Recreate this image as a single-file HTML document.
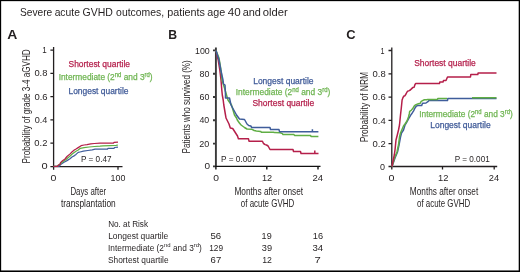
<!DOCTYPE html>
<html><head><meta charset="utf-8">
<style>
html,body{margin:0;padding:0;background:#fff;}
body{width:520px;height:272px;overflow:hidden;}
svg{display:block;will-change:transform;font-family:"Liberation Sans",sans-serif;}
.t{fill:#231f20;}
.ax{stroke:#231f20;stroke-width:1.3;fill:none;}
.axb{stroke:#3a3a3a;stroke-width:1.9;fill:none;}
.r{stroke:#b51f4a;stroke-width:1.5;fill:none;stroke-linejoin:round;}
.g{stroke:#60ae44;stroke-width:1.5;fill:none;stroke-linejoin:round;}
.b{stroke:#3f5d9b;stroke-width:1.5;fill:none;stroke-linejoin:round;}
.lr{fill:#b41f4b;stroke:#b41f4b;stroke-width:0.25;}
.lg{fill:#6fb552;stroke:#6fb552;stroke-width:0.25;}
.lb{fill:#3f5a98;stroke:#3f5a98;stroke-width:0.25;}
</style></head>
<body>
<svg width="520" height="272" viewBox="0 0 520 272">
<rect x="0" y="0" width="520" height="272" fill="#fff"/>
<path class="ax" d="M53.6,47 V166.6 M50.4,50.2 H53.6 M50.4,73.4 H53.6 M50.4,96.6 H53.6 M50.4,119.9 H53.6 M50.4,143.1 H53.6 M50.4,166.6 H53.6 M53,166.6 H122.5 M53.6,166.6 V169.7 M118,166.6 V169.7"/>
<path class="b" style="stroke-width:1.25" d="M53.5,166.3 L59,166.3 L61,164.2 L64,162.3 L67,160.6 L70,158.7 L72,157 L74.5,155.6 L76,154.4 L78.2,152.4 L80,152 L83.4,151.2 L87.8,150.5 L92.2,149.8 L95.1,149.1 L107.5,149.1 L108,148.3 L114,148.3 L114.5,147.5 L118,147.2"/>
<path class="g" style="stroke-width:1.25" d="M53.5,166.3 L57,166.2 L60,164 L63,161.5 L66,159.5 L69.5,156.5 L72.5,153.8 L76,151.2 L78.2,150 L80.4,148.3 L84.1,147.6 L89.2,147 L94.4,146.5 L100,146.1 L103,145.8 L110,145.6 L116,145.3 L118,145"/>
<path class="r" style="stroke-width:1.25" d="M53.5,166.3 L57.5,166.3 L58.5,165 L60,164.5 L60.5,162.6 L62.5,160.8 L65,159 L67,156.5 L69.8,154.1 L72.2,151.7 L74.3,150 L76,149 L78.2,147.6 L81.1,145.7 L84.1,145 L87,144.6 L90.7,143.9 L94.4,143.5 L100,143.1 L113.5,143.1 L114,142.4 L118,142.2"/>
<path class="axb" d="M215.9,47.5 V166.4 M213,50.4 H215.9 M213,73.7 H215.9 M213,97 H215.9 M213,120.3 H215.9 M213,143.6 H215.9 M213,166.4 H215.9"/>
<path class="ax" style="stroke:#111;stroke-width:1.4" d="M215.2,166.4 H320.5 M215.9,166.4 V169.5 M266.8,166.4 V169.5 M318,166.4 V169.5"/>
<path class="r" d="M216,50.5 L218.2,60 L219.8,70 L221,80 L221.8,90 L222.3,95 L223.2,100 L223.8,105 L225.5,115 L226,118 L228,122 L229,124 L230.3,128 L232.7,128.5 L235.6,133 L237.5,136 L238.4,138.8 L248.5,138.8 L249,141.2 L262.4,141.2 L263.5,143.5 L265.2,144.6 L266.5,145 L268.1,146 L270,149.5 L293,149.5 L293.5,151.5 L300.5,151.5 L301,153.5 L318.5,153.5 M314.8,153.5 V150.5"/>
<path class="g" d="M216,50.5 L219,58 L221,70 L222,80 L224.5,88 L226.5,95 L228,100 L231.5,105 L234.5,115 L236.5,118 L237.3,120 L239.4,123 L241.1,125 L244.5,127.5 L247,129 L252,129.3 L254.2,130.5 L256.3,131 L260.6,131.4 L261.4,132.2 L273.5,132.2 L274.5,132.6 L280.2,132.8 L282.4,133.6 L283,134.6 L294,134.6 L294.5,135.4 L310.5,135.4 L311,136.5 L318.4,136.5"/>
<path class="b" d="M216,50.5 L219,60 L220.8,70 L223,80 L223.5,84 L225,85 L225.5,95 L225.5,98 L229.5,98 L231,105 L236.5,115 L239.5,119 L244.5,119.5 L247,124 L248.7,125.5 L250.8,126 L251.7,127.5 L270,127.5 L270.5,129.6 L279,129.6 L279.5,131.7 L318.4,131.7 M312.4,131.7 V129.3"/>
<path class="ax" d="M391.8,47.5 V166.5 M388.5,50.5 H391.8 M388.5,73.8 H391.8 M388.5,97.1 H391.8 M388.5,120.4 H391.8 M388.5,143.6 H391.8 M388.5,166.5 H391.8 M391.2,166.5 H497.2 M391.8,166.5 V169.5 M442.5,166.5 V169.5 M494.2,166.5 V169.5"/>
<path class="b" d="M392,166.5 L395,158 L397.5,152 L399,145 L400.5,137 L401.5,133 L403.5,130 L405,125 L406.9,121.8 L408.8,118.5 L410.7,115.1 L412.1,113.2 L413.6,110.8 L415,108 L416.4,106 L417.9,105.6 L421.7,105.6 L422.2,104.1 L422.7,103.2 L426,103 L427.9,101.7 L428.9,100.6 L447.5,100.6 L447.8,98.6 L496.5,98.6"/>
<path class="g" d="M392,166.5 L394.5,158 L397,152 L397.8,148 L398.5,145 L399.5,137 L400.5,133 L403.5,126 L405,124 L407,121 L408.5,117 L409.3,113.7 L409.7,111.3 L411.2,110.4 L413.1,108 L414.5,105.6 L416,104.6 L418.4,103.7 L420.3,103.2 L421.2,101.3 L423.1,100.3 L424.6,99.8 L426.5,99.8 L427.9,99.4 L437.5,99.4 L437.8,98.5 L447,98.5 M472,97.8 L496.5,97.8"/>
<path class="r" d="M392,166.5 L393.2,160 L394.3,155 L395,150 L396,140 L397.3,135 L398.5,130 L399.5,125 L400.5,115 L401.3,108 L401.7,104 L402.1,100 L403,97.5 L404,96 L405,95.7 L406,94 L407,92 L408,91 L409.3,90.6 L410.3,90 L411.7,88.6 L412.7,87.6 L414.1,87.3 L415,84.5 L415.6,83.6 L439.5,83.6 L439.8,82 L443,82 L443.5,80.5 L446,80.5 L447.5,77 L470.5,77 L470.8,74.5 L477.8,74.5 L478.1,73 L496.5,73"/>

<text id="tw0" class="t" x="19.93" y="16.40" font-size="10.5" textLength="32.30" lengthAdjust="spacingAndGlyphs">Severe</text>
<text id="tw1" class="t" x="54.64" y="16.40" font-size="10.5" textLength="25.26" lengthAdjust="spacingAndGlyphs">acute</text>
<text id="tw2" class="t" x="82.50" y="16.40" font-size="10.5" textLength="30.31" lengthAdjust="spacingAndGlyphs">GVHD</text>
<text id="tw3" class="t" x="116.10" y="16.40" font-size="10.5" textLength="48.08" lengthAdjust="spacingAndGlyphs">outcomes,</text>
<text id="tw4" class="t" x="167.18" y="16.40" font-size="10.5" textLength="37.78" lengthAdjust="spacingAndGlyphs">patients</text>
<text id="tw5" class="t" x="207.28" y="16.40" font-size="10.5" textLength="17.94" lengthAdjust="spacingAndGlyphs">age</text>
<text id="tw6" class="t" x="227.86" y="16.40" font-size="10.5" textLength="12.95" lengthAdjust="spacingAndGlyphs">40</text>
<text id="tw7" class="t" x="242.66" y="16.40" font-size="10.5" textLength="18.23" lengthAdjust="spacingAndGlyphs">and</text>
<text id="tw8" class="t" x="262.70" y="16.40" font-size="10.5" textLength="24.97" lengthAdjust="spacingAndGlyphs">older</text>
<text id="lA" class="t" x="7.30" y="38.90" font-size="12.6" font-weight="bold" textLength="10.08" lengthAdjust="spacingAndGlyphs">A</text>
<text id="lB" class="t" x="168.36" y="38.90" font-size="12.6" font-weight="bold" textLength="8.86" lengthAdjust="spacingAndGlyphs">B</text>
<text id="lC" class="t" x="346.27" y="39.20" font-size="12.6" font-weight="bold" textLength="9.35" lengthAdjust="spacingAndGlyphs">C</text>
<text id="ayt0" class="t" x="42.20" y="53.20" font-size="9.0" textLength="4.47" lengthAdjust="spacingAndGlyphs">1</text>
<text id="ayt1" class="t" x="34.40" y="76.40" font-size="9.0" textLength="13.05" lengthAdjust="spacingAndGlyphs">0.8</text>
<text id="ayt2" class="t" x="34.41" y="99.60" font-size="9.0" textLength="13.20" lengthAdjust="spacingAndGlyphs">0.6</text>
<text id="ayt3" class="t" x="34.65" y="122.90" font-size="9.0" textLength="12.66" lengthAdjust="spacingAndGlyphs">0.4</text>
<text id="ayt4" class="t" x="34.39" y="146.10" font-size="9.0" textLength="13.07" lengthAdjust="spacingAndGlyphs">0.2</text>
<text id="ayt5" class="t" x="41.61" y="169.30" font-size="9.0" textLength="6.14" lengthAdjust="spacingAndGlyphs">0</text>
<text id="axt0" class="t" x="50.54" y="180.60" font-size="9.3" textLength="5.89" lengthAdjust="spacingAndGlyphs">0</text>
<text id="axt1" class="t" x="110.55" y="180.60" font-size="9.3" textLength="14.84" lengthAdjust="spacingAndGlyphs">100</text>
<text id="aX1" class="t" x="70.44" y="194.90" font-size="10.2" textLength="35.68" lengthAdjust="spacingAndGlyphs">Days after</text>
<text id="aX2" class="t" x="60.92" y="207.20" font-size="10.2" textLength="54.78" lengthAdjust="spacingAndGlyphs">transplantation</text>
<text id="aY" class="t" transform="translate(30.10,163.39) rotate(-90)" x="0" y="0" font-size="10.2" textLength="114.08" lengthAdjust="spacingAndGlyphs">Probability of grade 3-4 aGVHD</text>
<text id="aP" class="t" x="81.02" y="161.80" font-size="9.2" textLength="30.46" lengthAdjust="spacingAndGlyphs">P = 0.47</text>
<text id="aL1" class="lr" x="68.56" y="66.90" font-size="8.9" textLength="61.44" lengthAdjust="spacingAndGlyphs">Shortest quartile</text>
<text id="aL2" class="lg" x="58.63" y="80.40" font-size="8.9" textLength="94.03" lengthAdjust="spacingAndGlyphs">Intermediate (2<tspan font-size="6.3" dy="-3.4">nd</tspan><tspan dy="3.4"> and 3</tspan><tspan font-size="6.3" dy="-3.4">rd</tspan><tspan dy="3.4">)</tspan></text>
<text id="aL3" class="lb" x="68.45" y="93.50" font-size="8.9" textLength="60.04" lengthAdjust="spacingAndGlyphs">Longest quartile</text>
<text id="byt0" class="t" x="195.00" y="53.50" font-size="9.3" textLength="14.71" lengthAdjust="spacingAndGlyphs">100</text>
<text id="byt1" class="t" x="199.55" y="76.80" font-size="9.3" textLength="9.90" lengthAdjust="spacingAndGlyphs">80</text>
<text id="byt2" class="t" x="199.57" y="100.10" font-size="9.3" textLength="9.89" lengthAdjust="spacingAndGlyphs">60</text>
<text id="byt3" class="t" x="199.47" y="123.40" font-size="9.3" textLength="9.78" lengthAdjust="spacingAndGlyphs">40</text>
<text id="byt4" class="t" x="199.30" y="146.70" font-size="9.3" textLength="10.01" lengthAdjust="spacingAndGlyphs">20</text>
<text id="byt5" class="t" x="204.42" y="169.40" font-size="9.3" textLength="5.56" lengthAdjust="spacingAndGlyphs">0</text>
<text id="bxt0" class="t" x="213.37" y="180.60" font-size="9.3" textLength="5.74" lengthAdjust="spacingAndGlyphs">0</text>
<text id="bxt1" class="t" x="261.96" y="180.60" font-size="9.3" textLength="10.20" lengthAdjust="spacingAndGlyphs">12</text>
<text id="bxt2" class="t" x="312.48" y="180.60" font-size="9.3" textLength="10.65" lengthAdjust="spacingAndGlyphs">24</text>
<text id="bX1" class="t" x="234.39" y="194.70" font-size="10.2" textLength="68.72" lengthAdjust="spacingAndGlyphs">Months after onset</text>
<text id="bX2" class="t" x="240.86" y="207.20" font-size="10.2" textLength="53.24" lengthAdjust="spacingAndGlyphs">of acute GVHD</text>
<text id="bY" class="t" transform="translate(190.00,153.39) rotate(-90)" x="0" y="0" font-size="10.2" textLength="93.06" lengthAdjust="spacingAndGlyphs">Patients who survived (%)</text>
<text id="bP" class="t" x="221.05" y="162.20" font-size="9.2" textLength="35.42" lengthAdjust="spacingAndGlyphs">P = 0.007</text>
<text id="bL1" class="lb" x="253.21" y="83.50" font-size="8.9" textLength="60.29" lengthAdjust="spacingAndGlyphs">Longest quartile</text>
<text id="bL2" class="lg" x="235.72" y="95.10" font-size="8.9" textLength="94.60" lengthAdjust="spacingAndGlyphs">Intermediate (2<tspan font-size="6.3" dy="-3.4">nd</tspan><tspan dy="3.4"> and 3</tspan><tspan font-size="6.3" dy="-3.4">rd</tspan><tspan dy="3.4">)</tspan></text>
<text id="bL3" class="lr" x="252.48" y="105.70" font-size="8.9" textLength="61.73" lengthAdjust="spacingAndGlyphs">Shortest quartile</text>
<text id="cyt0" class="t" x="380.62" y="53.70" font-size="9.2" textLength="4.00" lengthAdjust="spacingAndGlyphs">1</text>
<text id="cyt1" class="t" x="372.57" y="77.00" font-size="9.2" textLength="13.14" lengthAdjust="spacingAndGlyphs">0.8</text>
<text id="cyt2" class="t" x="372.57" y="100.30" font-size="9.2" textLength="13.14" lengthAdjust="spacingAndGlyphs">0.6</text>
<text id="cyt3" class="t" x="372.57" y="123.60" font-size="9.2" textLength="13.17" lengthAdjust="spacingAndGlyphs">0.4</text>
<text id="cyt4" class="t" x="372.57" y="146.80" font-size="9.2" textLength="13.19" lengthAdjust="spacingAndGlyphs">0.2</text>
<text id="cyt5" class="t" x="380.10" y="169.70" font-size="9.2" textLength="5.00" lengthAdjust="spacingAndGlyphs">0</text>
<text id="cxt0" class="t" x="388.53" y="180.60" font-size="9.3" textLength="5.96" lengthAdjust="spacingAndGlyphs">0</text>
<text id="cxt1" class="t" x="437.94" y="180.60" font-size="9.3" textLength="10.38" lengthAdjust="spacingAndGlyphs">12</text>
<text id="cxt2" class="t" x="488.89" y="180.60" font-size="9.3" textLength="10.37" lengthAdjust="spacingAndGlyphs">24</text>
<text id="cX1" class="t" x="409.80" y="194.70" font-size="10.2" textLength="68.47" lengthAdjust="spacingAndGlyphs">Months after onset</text>
<text id="cX2" class="t" x="417.02" y="207.20" font-size="10.2" textLength="53.10" lengthAdjust="spacingAndGlyphs">of acute GVHD</text>
<text id="cY" class="t" transform="translate(367.90,142.34) rotate(-90)" x="0" y="0" font-size="10.2" textLength="70.44" lengthAdjust="spacingAndGlyphs">Probability of NRM</text>
<text id="cP" class="t" x="454.67" y="161.80" font-size="9.2" textLength="35.08" lengthAdjust="spacingAndGlyphs">P = 0.001</text>
<text id="cL1" class="lr" x="414.20" y="66.20" font-size="8.9" textLength="61.62" lengthAdjust="spacingAndGlyphs">Shortest quartile</text>
<text id="cL2" class="lg" x="419.22" y="116.90" font-size="8.9" textLength="93.52" lengthAdjust="spacingAndGlyphs">Intermediate (2<tspan font-size="6.3" dy="-3.4">nd</tspan><tspan dy="3.4"> and 3</tspan><tspan font-size="6.3" dy="-3.4">rd</tspan><tspan dy="3.4">)</tspan></text>
<text id="cL3" class="lb" x="430.25" y="128.00" font-size="8.9" textLength="60.38" lengthAdjust="spacingAndGlyphs">Longest quartile</text>
<text id="tb0" class="t" x="108.15" y="226.80" font-size="8.4" textLength="39.89" lengthAdjust="spacingAndGlyphs">No. at Risk</text>
<text id="tb1" class="t" x="108.18" y="238.90" font-size="8.4" textLength="60.16" lengthAdjust="spacingAndGlyphs">Longest quartile</text>
<text id="tb2" class="t" x="108.06" y="250.60" font-size="8.4" textLength="93.81" lengthAdjust="spacingAndGlyphs">Intermediate (2<tspan font-size="6.0" dy="-3.6">nd</tspan><tspan dy="3.6"> and 3</tspan><tspan font-size="6.0" dy="-3.6">rd</tspan><tspan dy="3.6">)</tspan></text>
<text id="tb3" class="t" x="108.06" y="262.60" font-size="8.4" textLength="60.51" lengthAdjust="spacingAndGlyphs">Shortest quartile</text>
<text id="tn0" class="t" x="210.45" y="239.30" font-size="8.4" textLength="10.73" lengthAdjust="spacingAndGlyphs">56</text>
<text id="tn1" class="t" x="261.62" y="239.30" font-size="8.4" textLength="10.07" lengthAdjust="spacingAndGlyphs">19</text>
<text id="tn2" class="t" x="312.85" y="239.30" font-size="8.4" textLength="10.26" lengthAdjust="spacingAndGlyphs">16</text>
<text id="tn3" class="t" x="209.24" y="251.00" font-size="8.4" textLength="13.80" lengthAdjust="spacingAndGlyphs">129</text>
<text id="tn4" class="t" x="261.84" y="251.00" font-size="8.4" textLength="10.23" lengthAdjust="spacingAndGlyphs">39</text>
<text id="tn5" class="t" x="312.41" y="251.00" font-size="8.4" textLength="10.71" lengthAdjust="spacingAndGlyphs">34</text>
<text id="tn6" class="t" x="210.58" y="262.80" font-size="8.4" textLength="10.61" lengthAdjust="spacingAndGlyphs">67</text>
<text id="tn7" class="t" x="262.17" y="262.80" font-size="8.4" textLength="9.73" lengthAdjust="spacingAndGlyphs">12</text>
<text id="tn8" class="t" x="314.46" y="262.80" font-size="8.4" textLength="6.29" lengthAdjust="spacingAndGlyphs">7</text>
<rect x="0.5" y="0.5" width="519" height="271" fill="none" stroke="#000" stroke-width="1"/>
<line x1="0" y1="270.5" x2="520" y2="270.5" stroke="#000" stroke-width="1" stroke-opacity="0.55"/>
<line x1="518.5" y1="0" x2="518.5" y2="272" stroke="#000" stroke-width="1" stroke-opacity="0.3"/>
<line x1="0" y1="1.5" x2="520" y2="1.5" stroke="#000" stroke-width="1" stroke-opacity="0.15"/>
<line x1="1.5" y1="0" x2="1.5" y2="272" stroke="#000" stroke-width="1" stroke-opacity="0.15"/>
</svg>
</body></html>
